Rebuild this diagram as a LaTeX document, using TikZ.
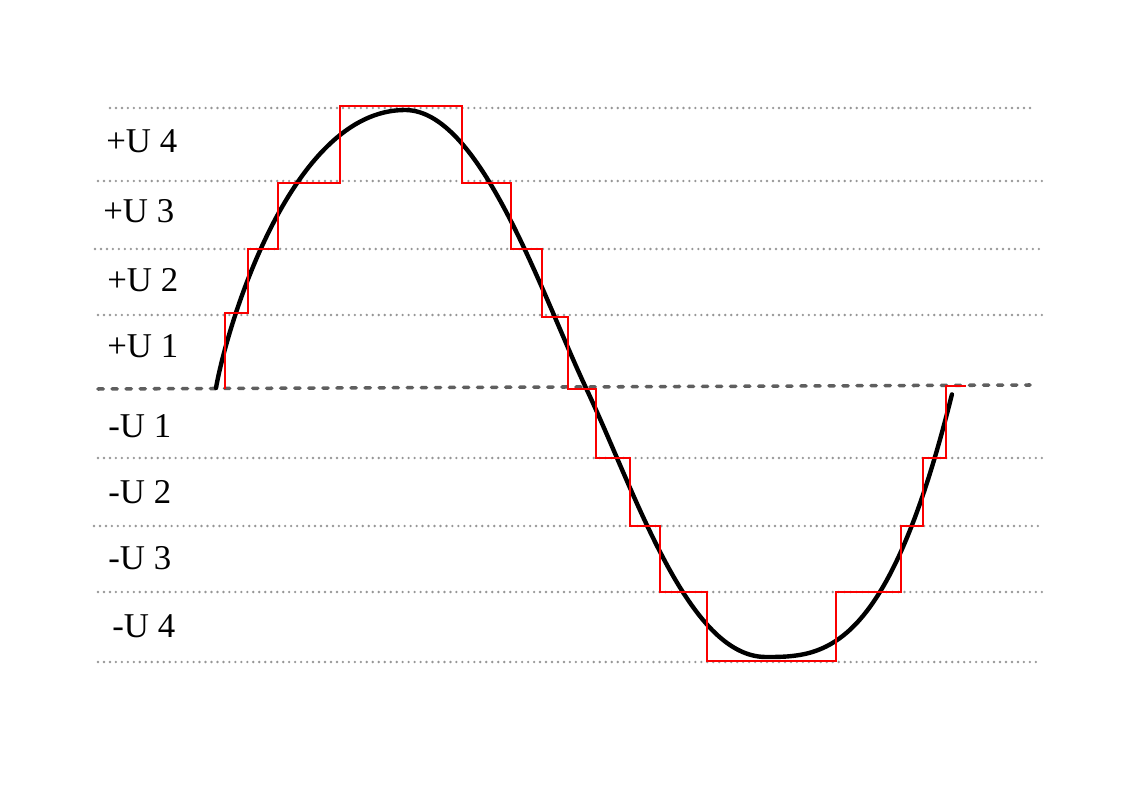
\documentclass[tikz,border=0pt]{standalone}
\usepackage{fontspec}
\setmainfont{Liberation Serif}
\definecolor{dotgray}{RGB}{150,150,150}
\definecolor{dashgray}{RGB}{95,95,95}
\definecolor{stepred}{RGB}{250,0,0}
\begin{document}
\begin{tikzpicture}[x=0.02cm, y=0.02cm]
\tikzstyle{every node}+=[inner sep=0pt]
\tikzstyle{dotline}=[dotgray, line width=1.5pt, line cap=round, dash pattern=on 0pt off 3.4pt]
\tikzstyle{zeroline}=[dashgray, line width=2pt, line cap=round, dash pattern=on 3pt off 5pt]
\tikzstyle{stepline}=[stepred, line width=1.3pt]
\tikzstyle{lvl}=[anchor=base west, font=\fontsize{19.8}{23}\selectfont]
\useasboundingbox (0,0) rectangle (1140,-807);
\draw [dotline] (110,-108) -- (1032,-108);
\draw [dotline] (98,-181) -- (1043,-181);
\draw [dotline] (95,-249) -- (1040,-249);
\draw [dotline] (98,-315) -- (1043,-315);
\draw [dotline] (98,-458) -- (1043,-458);
\draw [dotline] (94,-526) -- (1038,-526);
\draw [dotline] (98,-592) -- (1043,-592);
\draw [dotline] (98,-662) -- (1038,-662);
\draw [zeroline] (98,-389) -- (1030,-385);
\draw (106,-153) node [lvl] (up4) {+U 4};
\draw (103,-223) node [lvl] (up3) {+U 3};
\draw (107,-292) node [lvl] (up2) {+U 2};
\draw (107,-358) node [lvl] (up1) {+U 1};
\draw (108,-438) node [lvl] (um1) {-U 1};
\draw (108,-504) node [lvl] (um2) {-U 2};
\draw (108,-570) node [lvl] (um3) {-U 3};
\draw (112,-637) node [lvl] (um4) {-U 4};
% the wave
\draw [black, line width=2.5pt, line cap=round, line join=round] (216,-388)
  .. controls (226,-330) and (290,-110) .. (405,-110)
  .. controls (480,-110) and (540,-290) .. (586,-388)
  .. controls (636,-494) and (688,-657) .. (766,-657)
  -- plot [domain=0.02:1, samples=40, smooth] ({766+186*\x}, {-657+263*(\x)^2.85});
\draw [stepline] (225,-389) -- (225,-313) -- (248,-313) -- (248,-249) -- (278,-249)
  -- (278,-183) -- (340,-183) -- (340,-106) -- (462,-106) -- (462,-183) -- (511,-183)
  -- (511,-249) -- (542,-249) -- (542,-317) -- (568,-317) -- (568,-389) -- (596,-389)
  -- (596,-458) -- (630,-458) -- (630,-526) -- (660,-526) -- (660,-592) -- (707,-592)
  -- (707,-661) -- (836,-661) -- (836,-592) -- (901,-592) -- (901,-526) -- (923,-526)
  -- (923,-458) -- (946,-458) -- (946,-386) -- (966,-386);
\end{tikzpicture}
\end{document}
